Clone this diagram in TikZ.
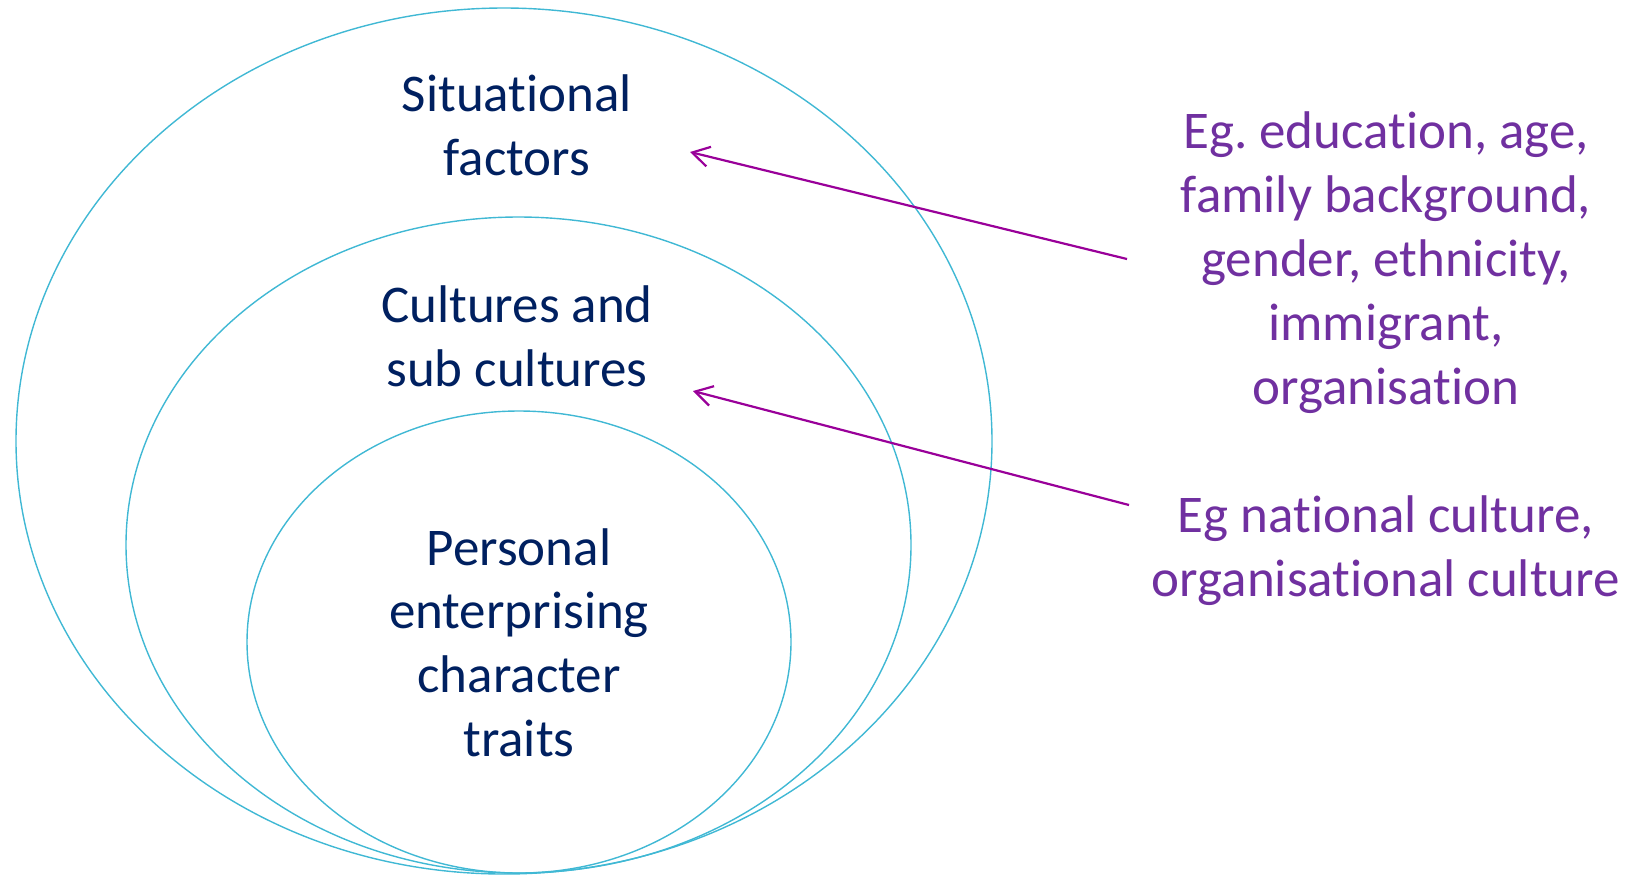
\documentclass[tikz,border=0pt]{standalone}
\usepackage{fontspec}
\setmainfont{Carlito}[Ligatures=NoCommon]
\usetikzlibrary{shapes.geometric,arrows.meta}
\definecolor{ringblue}{RGB}{64,184,212}
\definecolor{navytext}{HTML}{002060}
\definecolor{purpletext}{HTML}{7030A0}
\definecolor{arrowpurple}{HTML}{990099}
\frenchspacing
\tikzset{
  ring/.style={ellipse, draw=ringblue, line width=0.7pt, inner sep=0pt},
  inlabel/.style={text=navytext, align=center, font=\fontsize{26.5}{31.8}\selectfont, anchor=base, inner sep=0pt},
  exlabel/.style={text=purpletext, align=center, font=\fontsize{26.5}{32}\selectfont, anchor=base, inner sep=0pt},
  pointer/.style={draw=arrowpurple, line width=1.1pt, -{Straight Barb[length=8.5pt,width=10pt,line width=1.1pt]}}
}
\begin{document}
\begin{tikzpicture}[x=0.5pt,y=-0.5pt]
\useasboundingbox (0,0) rectangle (1632,875);
\node[ring, minimum width=488pt, minimum height=433pt] (outer) at (504,441) {};
\node[ring, minimum width=392.5pt, minimum height=328pt] (middle) at (518.5,545) {};
\node[ring, minimum width=272pt, minimum height=231pt] (inner) at (519,642) {};
\node[inlabel] (sit) at (517,175) {Situational\\factors};
\node[inlabel] (cul) at (517,386) {Cultures and\\sub cultures};
\node[inlabel] (per) at (519,756) {Personal\\enterprising\\character\\traits};
\node[exlabel] (eg1) at (1386,404) {Eg. education, age,\\family background,\\gender, ethnicity,\\immigrant,\\organisation};
\node[exlabel] (eg2) at (1386,596) {Eg national culture,\\organisational culture};
\coordinate (s1) at (1127,259);
\coordinate (e1) at (690,152);
\coordinate (s2) at (1129,505);
\coordinate (e2) at (693,391);
\draw[pointer] (s1) -- (e1);
\draw[pointer] (s2) -- (e2);
\end{tikzpicture}
\end{document}
